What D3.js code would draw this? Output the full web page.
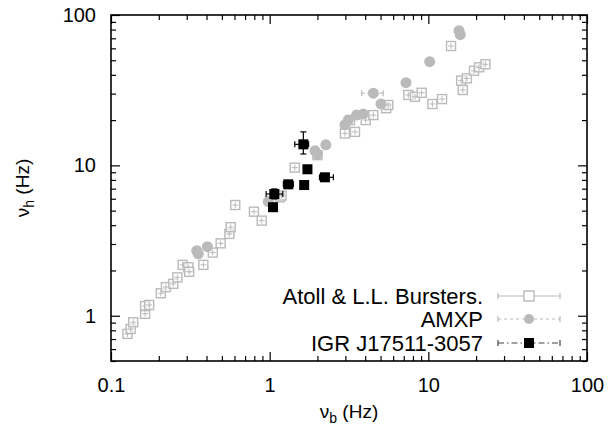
<!DOCTYPE html>
<html><head><meta charset="utf-8">
<script src="https://cdn.jsdelivr.net/npm/d3@7"></script>
<style>body{margin:0;background:#fff}svg{font-family:"Liberation Sans",Arial,sans-serif}</style>
</head><body>
<svg id="c" width="610" height="434"></svg>
<script>
// Atoll & L.L. Bursters
const atollX = [0.127,0.133,0.138,0.164,0.164,0.174,0.206,0.222,0.247,0.262,0.283,0.307,0.311,0.382,0.438,0.491,0.557,0.568,0.607,0.796,0.891,1.16,1.19,1.44,2.0,2.98,3.45,3.21,4.03,4.5,5.42,5.59,7.48,8.24,9.08,10.6,12.2,13.9,16.1,16.5,17.5,19.4,20.9,22.9];
const atollY = [0.757,0.817,0.905,1.03,1.16,1.18,1.41,1.55,1.63,1.80,2.18,2.10,1.96,2.18,2.63,3.03,3.50,3.88,5.45,4.92,4.29,6.13,6.3,9.66,11.7,16.3,16.7,20.0,20.0,21.6,24.0,25.2,29.4,28.6,30.4,25.6,27.6,62.2,36.6,31.7,37.9,42.6,44.9,47.0];
// AMXP
const amxpX = [0.347,0.355,0.405,0.98,1.93,2.0,2.26,2.98,3.13,3.53,3.89,4.5,5.03,7.23,10.2,15.6,15.9];
const amxpY = [2.71,2.58,2.88,5.74,12.5,11.9,13.7,18.6,20.0,21.6,22.0,30.2,25.6,35.5,48.9,78.7,74.0];
const amxpXErr = [null,null,null,null,null,null,null,null,null,null,null,[3.80,5.2],null,null,null,null,null];
// IGR J17511-3057
const igrX = [1.63,1.73,2.23,1.31,1.65,1.07,1.05];
const igrY = [13.8,9.42,8.33,7.48,7.4,6.45,5.27];
const igrXErr = [[1.44,1.76],null,[2.06,2.52],[1.22,1.41],null,[0.95,1.21],null];
const igrYErr = [[11.9,16.7],null,null,[7.1,7.9],null,[5.98,6.97],null];
// axes
const xTicks = [0.1,1,10,100];
const yTicks = [1,10,100];
const xTickLabels = ["0.1","1","10","100"];
const yTickLabels = ["1","10","100"];
const legendLabels = ["Atoll & L.L. Bursters.","AMXP","IGR J17511-3057"];

const svg = d3.select("#c");
const L=111,R=587,T=15,B=361;
const x = d3.scaleLog().domain([0.1,100]).range([L,R]);
const y = d3.scaleLog().domain([0.5,100]).range([B,T]);
const grey="#bababa";

// minor ticks
const minorX=[],minorY=[];
[0.1,1,10].forEach(d=>{for(let k=2;k<=9;k++)minorX.push(d*k);});
[0.1,1,10].forEach(d=>{for(let k=2;k<=9;k++){const v=d*k; if(v>=0.5&&v<100)minorY.push(v);}});

const g=svg.append("g");
g.append("g").attr("transform",`translate(0,${B})`)
  .call(d3.axisBottom(x).tickValues(xTicks).tickFormat((d,i)=>xTickLabels[i]).tickSizeInner(-9).tickSizeOuter(0).tickPadding(17));
g.append("g").attr("transform",`translate(0,${B})`)
  .call(d3.axisBottom(x).tickValues(minorX).tickFormat("").tickSizeInner(-5).tickSizeOuter(0));
g.append("g").attr("transform",`translate(0,${T})`)
  .call(d3.axisTop(x).tickValues(xTicks).tickFormat("").tickSizeInner(-9).tickSizeOuter(0));
g.append("g").attr("transform",`translate(0,${T})`)
  .call(d3.axisTop(x).tickValues(minorX).tickFormat("").tickSizeInner(-5).tickSizeOuter(0));
g.append("g").attr("transform",`translate(${L},0)`)
  .call(d3.axisLeft(y).tickValues(yTicks).tickFormat((d,i)=>yTickLabels[i]).tickSizeInner(-9).tickSizeOuter(0).tickPadding(15));
g.append("g").attr("transform",`translate(${L},0)`)
  .call(d3.axisLeft(y).tickValues(minorY).tickFormat("").tickSizeInner(-5).tickSizeOuter(0));
g.append("g").attr("transform",`translate(${R},0)`)
  .call(d3.axisRight(y).tickValues(yTicks).tickFormat("").tickSizeInner(-9).tickSizeOuter(0));
g.append("g").attr("transform",`translate(${R},0)`)
  .call(d3.axisRight(y).tickValues(minorY).tickFormat("").tickSizeInner(-5).tickSizeOuter(0));
g.selectAll(".domain").remove();
g.selectAll(".tick line").attr("stroke","#000").attr("stroke-width",1.2);
g.selectAll(".tick text").attr("font-size",20).attr("fill","#000").attr("font-family","Liberation Sans, Arial, sans-serif");

svg.append("rect").attr("x",L).attr("y",T).attr("width",R-L).attr("height",B-T)
  .attr("fill","none").attr("stroke","#000").attr("stroke-width",1.6);

const plot = svg.append("g");
function errbar(gp,cx,cy,xe,ye,color,dash){
  if(xe){ const x0=x(xe[0]),x1=x(xe[1]);
    gp.append("line").attr("x1",x0).attr("x2",x1).attr("y1",cy).attr("y2",cy).attr("stroke",color).attr("stroke-width",1.2).attr("stroke-dasharray",dash||null);
    [x0,x1].forEach(v=>gp.append("line").attr("x1",v).attr("x2",v).attr("y1",cy-3).attr("y2",cy+3).attr("stroke",color).attr("stroke-width",1.2));
  }
  if(ye){ const y0=y(ye[0]),y1=y(ye[1]);
    gp.append("line").attr("x1",cx).attr("x2",cx).attr("y1",y0).attr("y2",y1).attr("stroke",color).attr("stroke-width",1.2).attr("stroke-dasharray",dash||null);
    [y0,y1].forEach(v=>gp.append("line").attr("x1",cx-3).attr("x2",cx+3).attr("y1",v).attr("y2",v).attr("stroke",color).attr("stroke-width",1.2));
  }
}
atollX.forEach((vx,i)=>{
  const cx=x(vx),cy=y(atollY[i]);
  const gp=plot.append("g");
  gp.append("rect").attr("x",cx-4.5).attr("y",cy-4.5).attr("width",9).attr("height",9)
    .attr("fill","#fff").attr("fill-opacity",0.6).attr("stroke",grey).attr("stroke-width",1.4);
  gp.append("line").attr("x1",cx-3).attr("x2",cx+3).attr("y1",cy).attr("y2",cy).attr("stroke",grey).attr("stroke-width",1);
  gp.append("line").attr("x1",cx).attr("x2",cx).attr("y1",cy-3).attr("y2",cy+3).attr("stroke",grey).attr("stroke-width",1);
});
amxpX.forEach((vx,i)=>{
  const cx=x(vx),cy=y(amxpY[i]);
  errbar(plot,cx,cy,amxpXErr[i],null,grey,"3,3");
  plot.append("circle").attr("cx",cx).attr("cy",cy).attr("r",5.5).attr("fill",grey);
});
igrX.forEach((vx,i)=>{
  const cx=x(vx),cy=y(igrY[i]);
  errbar(plot,cx,cy,igrXErr[i],igrYErr[i],"#000");
  plot.append("rect").attr("x",cx-5).attr("y",cy-5).attr("width",10).attr("height",10).attr("fill","#000");
});

const lg = svg.append("g");
const rows=[296,319,343];
const lx0=498,lx1=560,lm=529;
rows.forEach((ry,i)=>{
  lg.append("text").attr("x",483).attr("y",ry).attr("dy","0.36em").attr("text-anchor","end")
    .attr("font-size",22).attr("fill","#000").text(legendLabels[i]);
});
lg.append("line").attr("x1",lx0).attr("x2",lx1).attr("y1",rows[0]).attr("y2",rows[0]).attr("stroke",grey).attr("stroke-width",1.2);
[lx0,lx1].forEach(v=>lg.append("line").attr("x1",v).attr("x2",v).attr("y1",rows[0]-3).attr("y2",rows[0]+3).attr("stroke",grey).attr("stroke-width",1.2));
lg.append("rect").attr("x",lm-5).attr("y",rows[0]-5).attr("width",10).attr("height",10).attr("fill","#fff").attr("stroke",grey).attr("stroke-width",1.4);
lg.append("line").attr("x1",lx0).attr("x2",lx1).attr("y1",rows[1]).attr("y2",rows[1]).attr("stroke",grey).attr("stroke-width",1.2).attr("stroke-dasharray","3,3");
[lx0,lx1].forEach(v=>lg.append("line").attr("x1",v).attr("x2",v).attr("y1",rows[1]-3).attr("y2",rows[1]+3).attr("stroke",grey).attr("stroke-width",1.2));
lg.append("circle").attr("cx",lm).attr("cy",rows[1]).attr("r",5).attr("fill",grey);
lg.append("line").attr("x1",lx0).attr("x2",lx1).attr("y1",rows[2]).attr("y2",rows[2]).attr("stroke","#444").attr("stroke-width",1.2).attr("stroke-dasharray","6,3,1.5,3");
[lx0,lx1].forEach(v=>lg.append("line").attr("x1",v).attr("x2",v).attr("y1",rows[2]-3).attr("y2",rows[2]+3).attr("stroke","#444").attr("stroke-width",1.2));
lg.append("rect").attr("x",lm-5).attr("y",rows[2]-5).attr("width",10).attr("height",10).attr("fill","#000");

const xl = svg.append("text").attr("x",349).attr("y",418).attr("text-anchor","middle").attr("font-size",19).attr("fill","#000");
xl.append("tspan").text("ν");
xl.append("tspan").attr("font-size",14).attr("dy",5).text("b");
xl.append("tspan").attr("dy",-5).text(" (Hz)");
const yl = svg.append("text").attr("transform","translate(29,188) rotate(-90)").attr("text-anchor","middle").attr("font-size",19).attr("fill","#000");
yl.append("tspan").text("ν");
yl.append("tspan").attr("font-size",14).attr("dy",5).text("h");
yl.append("tspan").attr("dy",-5).text(" (Hz)");
</script>
</body></html>
